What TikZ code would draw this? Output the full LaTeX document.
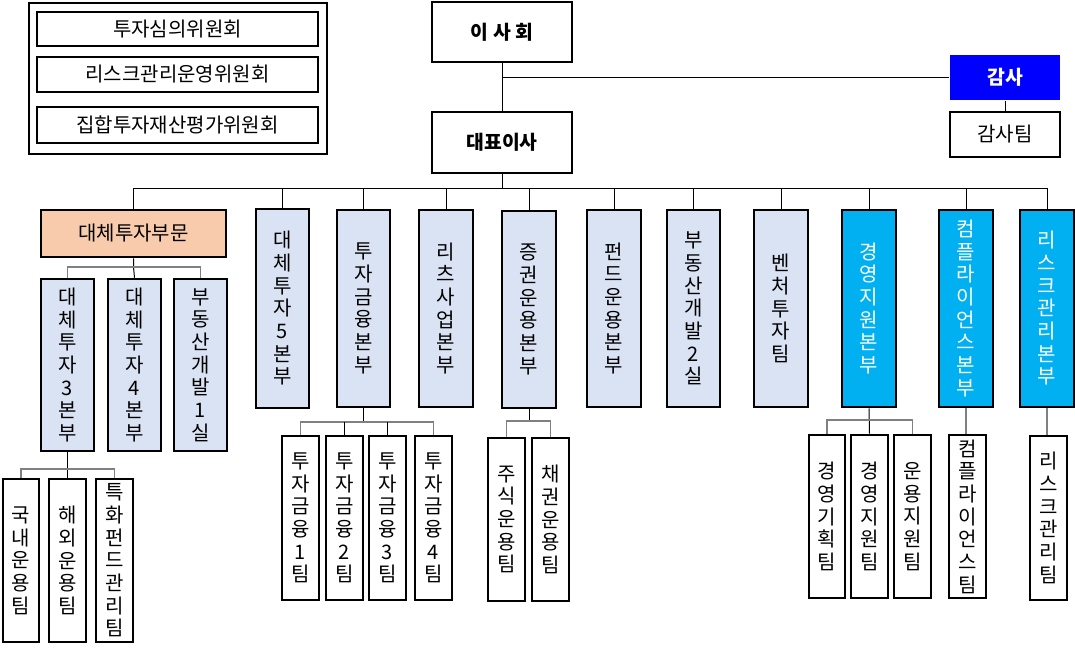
\documentclass[tikz,border=0pt]{standalone}
\usepackage{fontspec}
\setmainfont{Noto Sans CJK KR}
\definecolor{deptblue}{RGB}{218,227,243}
\definecolor{cyanc}{RGB}{0,176,240}
\definecolor{altorange}{RGB}{248,203,173}
\definecolor{pureblue}{RGB}{0,0,255}
\definecolor{linegray}{RGB}{128,128,128}
\tikzset{
  px/.style 2 args={minimum width=#1*0.75pt, minimum height=#2*0.75pt},
  bx/.style={draw=black, line width=1.9pt, inner sep=0pt, align=center, font=\fontsize{15}{17}\selectfont},
  dept/.style={bx, fill=deptblue},
  cyanbox/.style={bx, fill=cyanc, text=white},
  team/.style={bx, fill=white},
  topbox/.style={bx, fill=white, font=\bfseries\fontsize{14.5}{17}\selectfont},
  conn/.style={draw=black, line width=0.75pt},
  sconn/.style={draw=linegray, line width=1.3pt},
}
\begin{document}
\begin{tikzpicture}[x=0.75pt,y=-0.75pt]
\useasboundingbox (0,0) rectangle (1075,651);
% committees
\node[bx, line width=1.5pt, px={298}{151}] (comm) at (178,78.5) {};
\node[bx, line width=1.5pt, px={281}{34}] (c1) at (177.5,29) {투자심의위원회};
\node[bx, line width=1.5pt, px={281}{35}] (c2) at (177.5,74.5) {리스크관리운영위원회};
\node[bx, line width=1.5pt, px={281}{36}] (c3) at (177.5,125) {집합투자재산평가위원회};
% top
\node[topbox, px={140}{60}] (board) at (502,32) {이 사 회};
\node[topbox, px={140}{61}] (ceo) at (502,142.5) {대표이사};
\node[bx, draw=none, fill=pureblue, text=white, font=\bfseries\fontsize{14.5}{17}\selectfont, px={110}{45}] (audit) at (1005,77.5) {감사};
\node[bx, px={110}{45}] (auditteam) at (1005,134.5) {감사팀};
% row 1
\node[bx, fill=altorange, px={185}{47}] (alt) at (133.5,233.5) {대체투자부문};
\node[dept, px={53}{199}] (p5) at (282.5,308.5) {대\\체\\투\\자\\5\\본\\부};
\node[dept, px={53}{197}] (tf) at (363.5,308.5) {투\\자\\금\\융\\본\\부};
\node[dept, px={54}{197}] (reit) at (446,308.5) {리\\츠\\사\\업\\본\\부};
\node[dept, px={54}{197}] (sec) at (529,309.5) {증\\권\\운\\용\\본\\부};
\node[dept, px={54}{197}] (fund) at (614,308.5) {펀\\드\\운\\용\\본\\부};
\node[dept, px={53}{197}] (re2) at (693.5,308.5) {부\\동\\산\\개\\발\\2\\실};
\node[dept, px={54}{197}] (vc) at (781,308.5) {벤\\처\\투\\자\\팀};
\node[cyanbox, px={54}{197}] (mg) at (869,308.5) {경\\영\\지\\원\\본\\부};
\node[cyanbox, px={54}{197}] (cp) at (966,308.5) {컴\\플\\라\\이\\언\\스\\본\\부};
\node[cyanbox, px={54}{197}] (rk) at (1047,308.5) {리\\스\\크\\관\\리\\본\\부};
% alt sub
\node[dept, px={53}{172}] (a3) at (67.5,365) {대\\체\\투\\자\\3\\본\\부};
\node[dept, px={53}{172}] (a4) at (134.5,365) {대\\체\\투\\자\\4\\본\\부};
\node[dept, px={53}{172}] (d1) at (200.5,365) {부\\동\\산\\개\\발\\1\\실};
% a3 teams
\node[team, px={36}{163}] (t1) at (21,560.5) {국\\내\\운\\용\\팀};
\node[team, px={37}{163}] (t2) at (67.5,560.5) {해\\외\\운\\용\\팀};
\node[team, px={37}{163}] (t3) at (114.5,560.5) {특\\화\\펀\\드\\관\\리\\팀};
% tf teams
\node[team, px={37}{164}] (f1) at (300.5,518) {투\\자\\금\\융\\1\\팀};
\node[team, px={37}{164}] (f2) at (344.5,518) {투\\자\\금\\융\\2\\팀};
\node[team, px={37}{164}] (f3) at (387.5,518) {투\\자\\금\\융\\3\\팀};
\node[team, px={37}{164}] (f4) at (433.5,518) {투\\자\\금\\융\\4\\팀};
% sec teams
\node[team, px={37}{163}] (s1) at (506.5,519.5) {주\\식\\운\\용\\팀};
\node[team, px={37}{163}] (s2) at (550.5,519.5) {채\\권\\운\\용\\팀};
% mg teams
\node[team, px={36}{163}] (m1) at (827,516.5) {경\\영\\기\\획\\팀};
\node[team, px={37}{163}] (m2) at (869.5,516.5) {경\\영\\지\\원\\팀};
\node[team, px={37}{163}] (m3) at (912.5,516.5) {운\\용\\지\\원\\팀};
\node[team, px={37}{163}] (cpt) at (967.5,516.5) {컴\\플\\라\\이\\언\\스\\팀};
\node[team, px={37}{164}] (rkt) at (1048.5,518) {리\\스\\크\\관\\리\\팀};
% top connectors
\draw[conn] (board.south) -- (ceo.north);
\draw[conn] (board.south |- audit.west) -- (audit.west);
\draw[conn] (audit.south) -- (auditteam.north);
% main bus
\coordinate (bus) at (502,188);
\draw[conn] (ceo.south) -- (bus);
\draw[conn] (alt.north |- bus) -- (rk.north |- bus);
\foreach \n in {alt,p5,tf,reit,sec,fund,re2,vc,mg,cp,rk}
  \draw[conn] (\n.north |- bus) -- (\n.north);
% alt sub-bus
\coordinate (j1) at (alt.south |- 0,267);
\draw[conn] (alt.south) -- (j1) -- (a4.north);
\draw[sconn] (a3.north) |- (j1) -| (d1.north);
% a3 sub-bus
\coordinate (j2) at (a3.south |- 0,469);
\draw[conn] (a3.south) -- (t2.north);
\draw[sconn] (t1.north) |- (j2) -| (t3.north);
% tf sub-bus
\coordinate (j3) at (tf.south |- 0,422);
\draw[conn] (tf.south) -- (j3);
\draw[sconn] (f1.north) |- (j3) -| (f4.north);
\draw[conn] (f2.north) -- (f2.north |- j3);
\draw[conn] (f3.north) -- (f3.north |- j3);
% sec sub-bus
\coordinate (j4) at (sec.south |- 0,421);
\draw[conn] (sec.south) -- (j4);
\draw[sconn] (s1.north) |- (j4) -| (s2.north);
% mg sub-bus
\coordinate (j5) at (mg.south |- 0,420);
\draw[conn] (mg.south) -- (m2.north);
\draw[sconn] (m1.north) |- (j5) -| (m3.north);
% single drops
\draw[sconn] (cp.south) -- (cp.south |- cpt.north);
\draw[sconn] (rk.south) -- (rk.south |- rkt.north);
\end{tikzpicture}
\end{document}
